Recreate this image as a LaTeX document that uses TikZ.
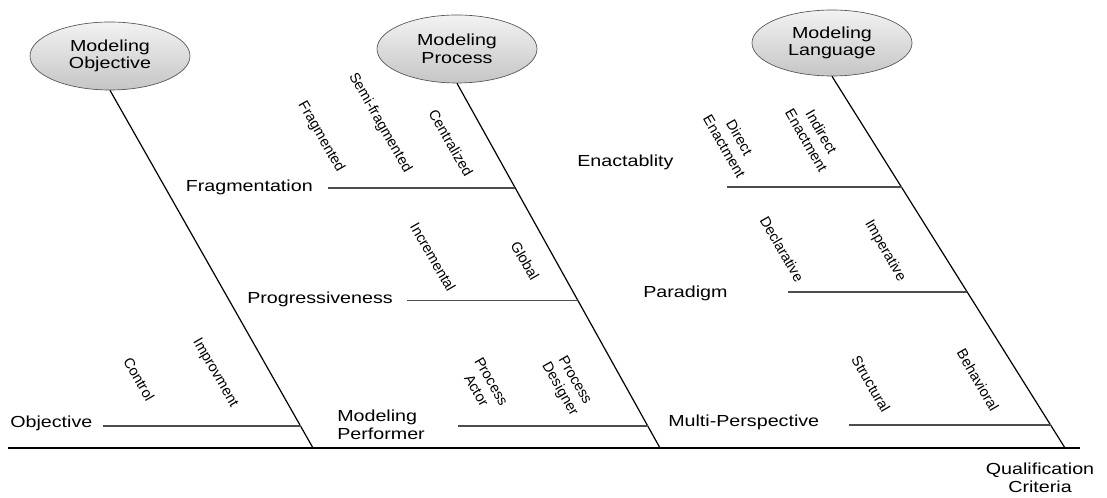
\documentclass[tikz,border=0pt]{standalone}
\usepackage{graphicx}
\usepackage{fontspec}
\setmainfont{Liberation Sans}
\usetikzlibrary{shapes.geometric}
\newcommand{\wx}[1]{\scalebox{1.23}[1]{#1}}
\begin{document}
\begin{tikzpicture}[x=0.75pt,y=-0.75pt,
  hlab/.style={font=\fontsize{12}{13.2}\selectfont, inner sep=0},
  rlab/.style={font=\fontsize{10.9}{13}\selectfont, inner sep=0, rotate=-60, align=center},
  bubble/.style={ellipse, draw=gray!65!black, line width=0.5pt, top color=gray!10, bottom color=gray!45,
    inner sep=0, align=center, font=\fontsize{12}{13.2}\selectfont, minimum width=120pt, minimum height=51pt},
  spine/.style={line width=0.9pt, draw=black},
  rib/.style={line width=0.9pt, draw=black!70},
  baseline/.style={line width=1.6pt, draw=black}]
\useasboundingbox (0,0) rectangle (1107,498);

% heads
\node[bubble] (E1) at (110,56) {\wx{Modeling}\\\wx{Objective}};
\node[bubble] (E2) at (457,49) {\wx{Modeling}\\\wx{Process}};
\node[bubble, minimum height=49.5pt] (E3) at (832,43) {\wx{Modeling}\\\wx{Language}};

% baseline
\coordinate (L0) at (8,448);
\coordinate (R0) at (1080,448);
\draw[baseline] (L0) -- (R0);

% spines
\coordinate (B1) at (313,448);
\coordinate (B2) at (660,448);
\coordinate (B3) at (1065,448);
\draw[spine] (E1.south) -- (B1);
\draw[spine] (E2.south) -- (B2);
\draw[spine] (E3.south) -- (B3);

% ribs
\coordinate (objS) at (103,426);   \coordinate (objE) at (300.5,426);
\coordinate (fraS) at (328,188);   \coordinate (fraE) at (515.4,188);
\coordinate (proS) at (407,300.5); \coordinate (proE) at (578,300.5);
\coordinate (perS) at (458,426);   \coordinate (perE) at (647.8,426);
\coordinate (enaS) at (727,187);   \coordinate (enaE) at (901.5,187);
\coordinate (parS) at (788,292);   \coordinate (parE) at (967.3,292);
\coordinate (mulS) at (849,425);   \coordinate (mulE) at (1050.5,425);
\draw[rib] (objS) -- (objE);
\draw[rib] (fraS) -- (fraE);
\draw[rib] (proS) -- (proE);
\draw[rib] (perS) -- (perE);
\draw[rib] (enaS) -- (enaE);
\draw[rib] (parS) -- (parE);
\draw[rib] (mulS) -- (mulE);

% horizontal labels
\node[hlab, anchor=base west] (objective) at (10,428) {\wx{Objective}};
\node[hlab, anchor=base east] (fragmentation) at (313,192) {\wx{Fragmentation}};
\node[hlab, anchor=base east] (progressiveness) at (393,304) {\wx{Progressiveness}};
\node[hlab, anchor=west, align=left] (performer) at (337,425) {\wx{Modeling}\\\wx{Performer}};
\node[hlab, anchor=base west] (enactablity) at (577,167) {\wx{Enactablity}};
\node[hlab, anchor=base west] (paradigm) at (643,298) {\wx{Paradigm}};
\node[hlab, anchor=base west] (multi) at (668,427) {\wx{Multi-Perspective}};
\node[hlab, align=center] (qc) at (1040,478) {\wx{Qualification}\\\wx{Criteria}};

% rotated labels
\node[rlab] (fragmented) at (321,137) {Fragmented};
\node[rlab] (semi) at (380,123) {Semi-fragmented};
\node[rlab] (centralized) at (451,143) {Centralized};
\node[rlab] (incremental) at (433,257) {Incremental};
\node[rlab] (global) at (525,261) {Global};
\node[rlab] (control) at (139,379) {Control};
\node[rlab] (improvment) at (215,373) {Improvment};
\node[rlab] (actor) at (484,386) {Process\\Actor};
\node[rlab] (designer) at (567,385) {Process\\Designer};
\node[rlab] (direct) at (732,142) {Direct\\Enactment};
\node[rlab] (indirect) at (814,136) {Indirect\\Enactment};
\node[rlab] (declarative) at (782,249) {Declarative};
\node[rlab] (imperative) at (885,251) {Imperative};
\node[rlab] (structural) at (871,384) {Structural};
\node[rlab] (behavioral) at (978,380) {Behavioral};
\end{tikzpicture}
\end{document}
